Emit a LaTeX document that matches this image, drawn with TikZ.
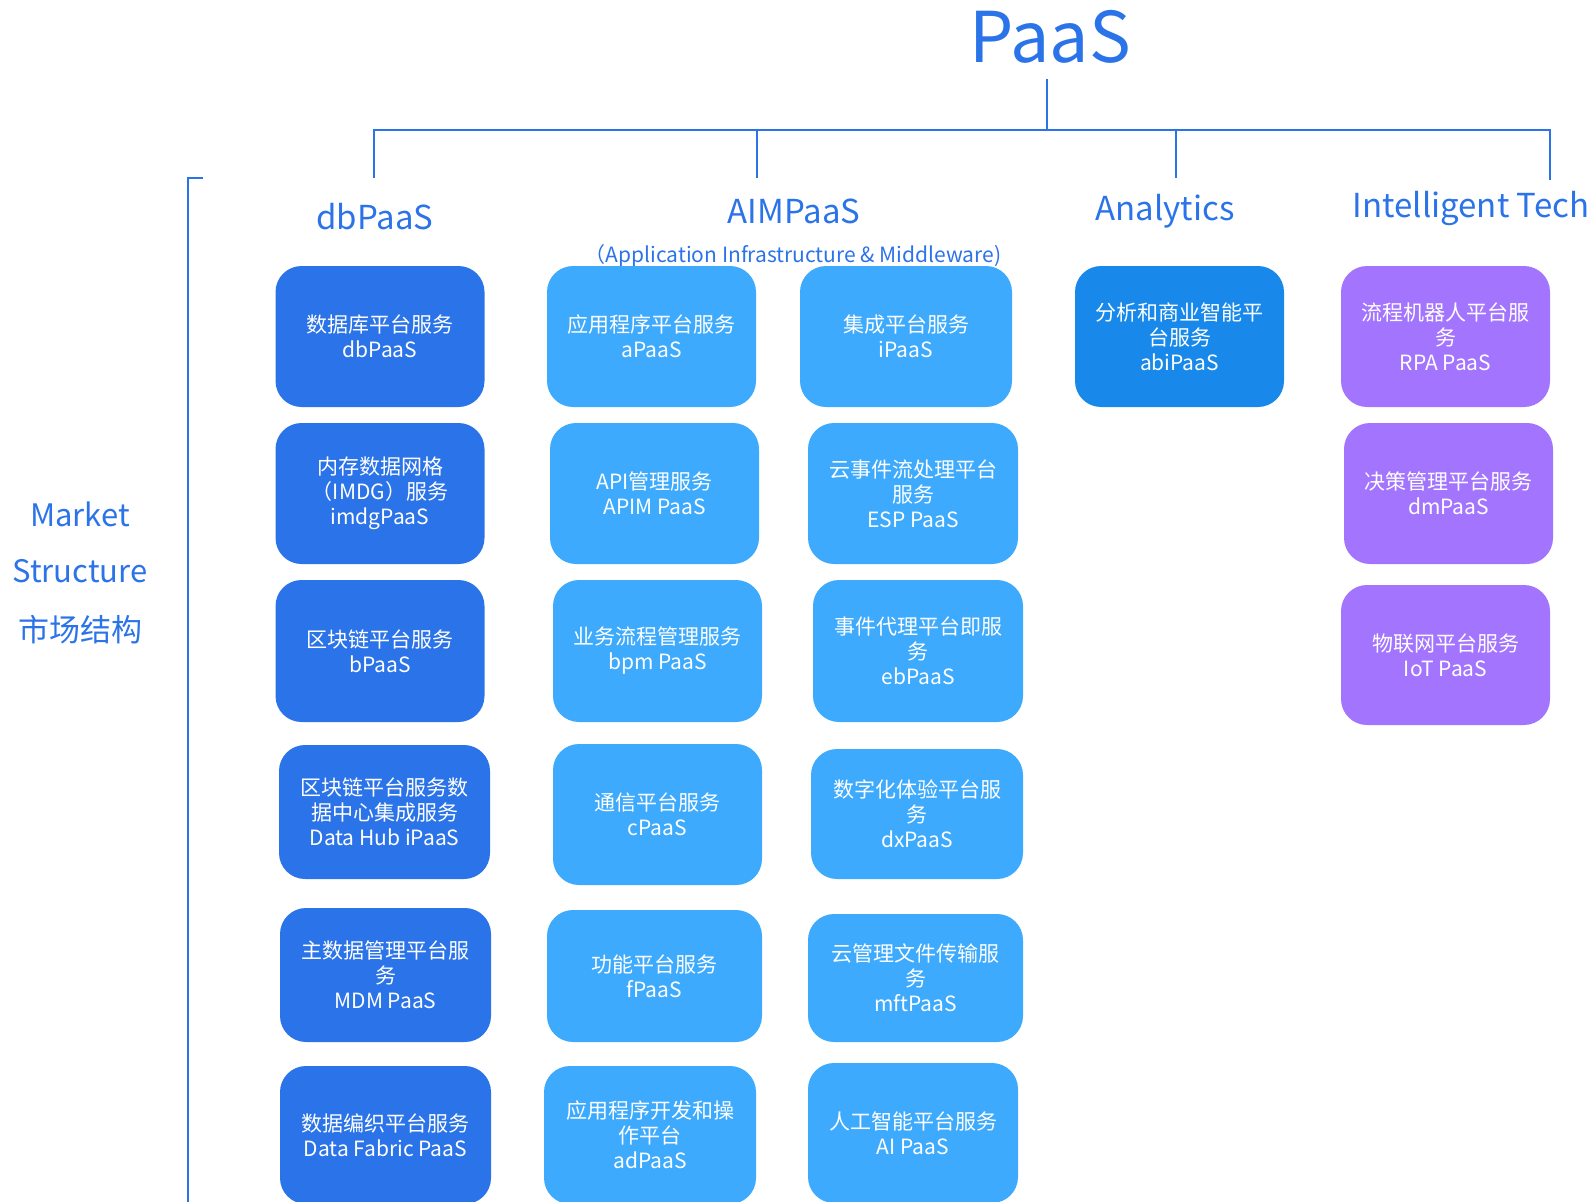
\documentclass[tikz,border=0pt]{standalone}
\usepackage{fontspec}
\setmainfont{Noto Sans CJK SC}
\definecolor{dbblue}{HTML}{2B73E8}
\definecolor{aimblue}{HTML}{3DAAFD}
\definecolor{abiblue}{HTML}{1889EA}
\definecolor{techpurple}{HTML}{A374FD}
\tikzset{
  svc/.style={rounded corners=26pt, minimum width=209pt, minimum height=141pt,
    align=center, text=white, inner sep=0pt, font=\fontsize{21}{25}\selectfont},
  dbbox/.style={svc, fill=dbblue},
  aimbox/.style={svc, fill=aimblue},
  abibox/.style={svc, fill=abiblue},
  techbox/.style={svc, fill=techpurple},
  head/.style={text=dbblue, inner sep=0pt, font=\fontsize{33}{40}\selectfont},
  tree/.style={draw=dbblue, line width=2.5pt},
}
\begin{document}
\begin{tikzpicture}[x=1pt, y=-1pt]
    \useasboundingbox (0,0) rectangle (1594,1201);
    \clip (0,0) rectangle (1594,1201);
    % Title and tree
    \node[head, font=\fontsize{70}{76}\selectfont] (paas) at (1050,37) {PaaS};
    \coordinate (stem) at (1047,79);
    \coordinate (hub) at (1047,130);
    \coordinate (busend) at (1550,130);
    \coordinate (d1) at (374,178);
    \coordinate (d2) at (757,178);
    \coordinate (d3) at (1176,178);
    \coordinate (d4) at (1550,180);
    \draw[tree] (stem) -- (hub);
    \draw[tree] (d1) |- (busend) -- (d4);
    \draw[tree] (d2) -- (d2 |- hub);
    \draw[tree] (d3) -- (d3 |- hub);
    % Group headings
    \node[head] (hdb) at (375,217) {dbPaaS};
    \node[head] (haim) at (794,211) {AIMPaaS};
    \node[head, font=\fontsize{21}{25}\selectfont] (haimsub) at (793,256) {（Application Infrastructure \& Middleware)};
    \node[head] (habi) at (1165,211) {Analytics};
    \node[head] (htech) at (1471,208) {Intelligent Tech};
    % Market structure bracket
    \coordinate (bktick) at (203,178);
    \coordinate (bktop) at (188,178);
    \coordinate (bkfoot) at (188,1210);
    \draw[draw=dbblue, line width=2pt] (bktick) -- (bktop) -- (bkfoot);
    \node[head, font=\fontsize{31}{38}\selectfont] (mkt1) at (80,514) {Market};
    \node[head, font=\fontsize{31}{38}\selectfont] (mkt2) at (80,571) {Structure};
    \node[head, font=\fontsize{31}{38}\selectfont] (mkt3) at (80,630) {市场结构};
    % dbPaaS column
    \node[dbbox] (dbpaas) at (380,336.5) {数据库平台服务\\dbPaaS};
    \node[dbbox] (imdg) at (380,493.5) {内存数据网格\\（IMDG）服务\\imdgPaaS};
    \node[dbbox, minimum height=142pt] (bpaas) at (380,651) {区块链平台服务\\bPaaS};
    \node[dbbox, minimum width=211pt, minimum height=134pt] (datahub) at (384.5,812) {区块链平台服务数\\据中心集成服务\\Data Hub iPaaS};
    \node[dbbox, minimum width=211pt, minimum height=134pt] (mdm) at (385.5,975) {主数据管理平台服\\务\\MDM PaaS};
    \node[dbbox, minimum width=211pt, minimum height=138pt] (fabric) at (385.5,1135) {数据编织平台服务\\Data Fabric PaaS};
    % AIMPaaS columns
    \node[aimbox] (apaas) at (651.5,336.5) {应用程序平台服务\\aPaaS};
    \node[aimbox] (apim) at (654.5,493.5) {API管理服务\\APIM PaaS};
    \node[aimbox, minimum height=142pt] (bpm) at (657.5,651) {业务流程管理服务\\bpm PaaS};
    \node[aimbox] (cpaas) at (657.5,814.5) {通信平台服务\\cPaaS};
    \node[aimbox, minimum width=215pt, minimum height=132pt] (fpaas) at (654.5,976) {功能平台服务\\fPaaS};
    \node[aimbox, minimum width=212pt, minimum height=138pt] (adpaas) at (650,1135) {应用程序开发和操\\作平台\\adPaaS};
    \node[aimbox, minimum width=212pt] (ipaas) at (906,336.5) {集成平台服务\\iPaaS};
    \node[aimbox, minimum width=210pt] (esp) at (913,493.5) {云事件流处理平台\\服务\\ESP PaaS};
    \node[aimbox, minimum width=210pt, minimum height=142pt] (ebpaas) at (918,651) {事件代理平台即服\\务\\ebPaaS};
    \node[aimbox, minimum width=212pt, minimum height=130pt] (dxpaas) at (917,814) {数字化体验平台服\\务\\dxPaaS};
    \node[aimbox, minimum width=215pt, minimum height=128pt] (mft) at (915.5,978) {云管理文件传输服\\务\\mftPaaS};
    \node[aimbox, minimum width=210pt, minimum height=140pt] (aipaas) at (913,1133) {人工智能平台服务\\AI PaaS};
    % Analytics column
    \node[abibox] (abipaas) at (1179.5,336.5) {分析和商业智能平\\台服务\\abiPaaS};
    % Intelligent Tech column
    \node[techbox] (rpa) at (1445.5,336.5) {流程机器人平台服\\务\\RPA PaaS};
    \node[techbox] (dmpaas) at (1448.5,493.5) {决策管理平台服务\\dmPaaS};
    \node[techbox, minimum height=140pt] (iot) at (1445.5,655) {物联网平台服务\\IoT PaaS};
\end{tikzpicture}
\end{document}
